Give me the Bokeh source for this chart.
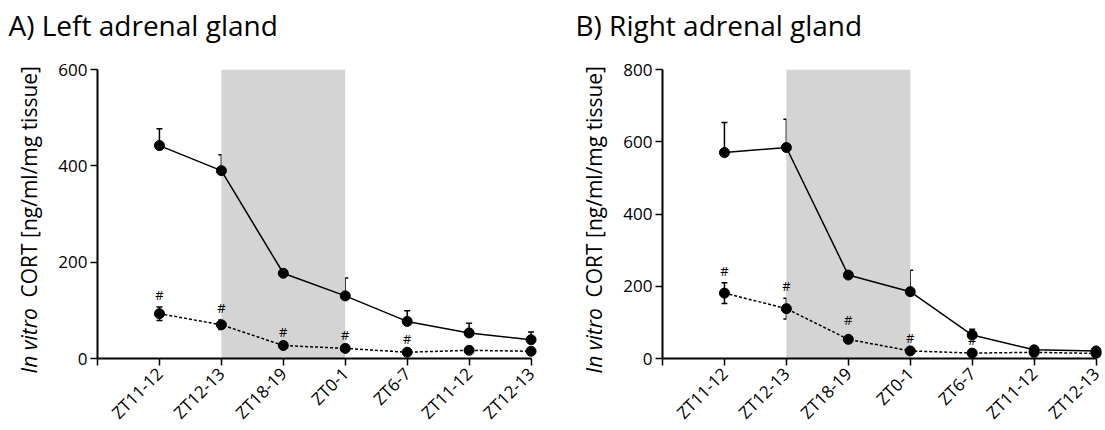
import math
from bokeh.plotting import figure
from bokeh.layouts import row
from bokeh.models import Range1d, FixedTicker, Whisker, TeeHead, ColumnDataSource
from bokeh.core.properties import value
from bokeh.embed import file_html
from bokeh.resources import INLINE

categories = ["ZT11-12", "ZT12-13", "ZT18-19", "ZT0-1", "ZT6-7", "ZT11-12", "ZT12-13"]
x_pos = [0, 1, 2, 3, 4, 5, 6]
dark_start = 1
dark_end = 3

left_solid = [442, 390, 177, 130, 77, 53, 39]
left_solid_err = [35, 33, 32, 37, 22, 20, 16]
left_dashed = [93, 70, 27, 21, 13, 17, 15]
left_dashed_err = [14, 10, 4, 3, 3, 3, 3]
left_hash = [0, 1, 2, 3, 4]
left_yticks = [0, 200, 400, 600]

right_solid = [570, 584, 231, 185, 65, 24, 21]
right_solid_err = [83, 78, 55, 59, 16, 4, 3]
right_dashed = [181, 138, 53, 21, 15, 17, 14]
right_dashed_err = [29, 29, 19, 3, 3, 3, 3]
right_hash = [0, 1, 2, 3, 4]
right_yticks = [0, 200, 400, 600, 800]

ylabel_italic = "In vitro"
ylabel_rest = "CORT [ng/ml/mg tissue]"

FONT = "Open Sans"
H = 430
FW, FH = 441, 289
TOP = 69
BOTTOM = H - TOP - FH
X0, X1 = -1, 6.12


def panel(title, solid, solid_err, dashed, dashed_err, hash_idx, yticks,
          border_left, border_right, title_px, label_px):
    ymax = yticks[-1]
    p = figure(frame_width=FW, frame_height=FH, min_border_left=border_left,
               min_border_right=border_right, min_border_top=TOP, min_border_bottom=BOTTOM,
               x_range=Range1d(X0, X1), y_range=Range1d(0, ymax),
               output_backend="svg", toolbar_location=None, tools="")
    p.title.visible = False
    p.outline_line_color = None
    p.xgrid.visible = False
    p.ygrid.visible = False

    # page pixel -> data helpers (for placing the texts that sit outside the frame)
    def dx(px):
        return X0 + (px - border_left) * (X1 - X0) / FW

    def dy(py):
        return (TOP + FH - py) * ymax / FH

    # dark phase shading
    p.quad(left=[dark_start], right=[dark_end], bottom=[0], top=[ymax],
           fill_color="#d4d4d4", line_color=None)

    # error bars
    s_src = ColumnDataSource(dict(x=x_pos, lo=solid, hi=[v + e for v, e in zip(solid, solid_err)]))
    d_src = ColumnDataSource(dict(x=x_pos, lo=[v - e for v, e in zip(dashed, dashed_err)],
                                  hi=[v + e for v, e in zip(dashed, dashed_err)]))
    p.add_layout(Whisker(source=s_src, base="x", lower="lo", upper="hi", line_color="black",
                         line_width=1.5, lower_head=None,
                         upper_head=TeeHead(size=6, line_width=1.5, line_color="black")))
    p.add_layout(Whisker(source=d_src, base="x", lower="lo", upper="hi", line_color="black",
                         line_width=1.5,
                         lower_head=TeeHead(size=6, line_width=1.5, line_color="black"),
                         upper_head=TeeHead(size=6, line_width=1.5, line_color="black")))

    p.line(x_pos, solid, line_color="black", line_width=1.5)
    p.line(x_pos, dashed, line_color="black", line_width=1.5, line_dash="3 2")
    p.scatter(x_pos, solid, size=10, fill_color="black", line_color="black")
    p.scatter(x_pos, dashed, size=10, fill_color="black", line_color="black")

    hx = [x_pos[i] for i in hash_idx]
    hy = [dashed[i] + dashed_err[i] for i in hash_idx]
    p.text(x=hx, y=hy, text=["#"] * len(hx), text_font=value(FONT), text_font_size="13px",
           text_align="center", text_baseline="bottom", y_offset=-3, text_color="black")

    # panel heading
    r = p.text(x=[dx(title_px)], y=[dy(24)], text=[title], text_font=value(FONT),
               text_font_size="28px", text_color="black", text_align="left",
               text_baseline="alphabetic")
    r.level = "overlay"
    # y-axis title: italic part + regular part
    r = p.text(x=[dx(label_px)], y=[dy(373)], text=[ylabel_italic], angle=math.pi / 2,
               text_font=value(FONT), text_font_size="21px", text_font_style="italic",
               text_color="black", text_align="left", text_baseline="middle")
    r.level = "overlay"
    r = p.text(x=[dx(label_px)], y=[dy(297)], text=[ylabel_rest], angle=math.pi / 2,
               text_font=value(FONT), text_font_size="21px",
               text_color="black", text_align="left", text_baseline="middle")
    r.level = "overlay"

    for ax in (p.xaxis[0], p.yaxis[0]):
        ax.axis_line_width = 2
        ax.axis_line_color = "black"
        ax.major_tick_line_width = 1.5
        ax.major_tick_line_color = "black"
        ax.major_tick_out = 7
        ax.major_tick_in = 0
        ax.minor_tick_line_color = None
        ax.major_label_text_font = FONT
        ax.major_label_text_color = "black"
        ax.major_label_text_font_size = "17px"
    p.xaxis.bounds = (-1, 6)
    p.xaxis.ticker = FixedTicker(ticks=[-1] + x_pos)
    overrides = {-1: ""}
    for i, c in zip(x_pos, categories):
        overrides[i] = c
    p.xaxis.major_label_overrides = overrides
    p.xaxis.major_label_orientation = math.pi / 4
    p.yaxis.ticker = FixedTicker(ticks=yticks)
    p.yaxis.major_label_standoff = 3
    return p


pa = panel("A) Left adrenal gland", left_solid, left_solid_err, left_dashed, left_dashed_err,
           left_hash, left_yticks, 97, 12, 8, 28)
pb = panel("B) Right adrenal gland", right_solid, right_solid_err, right_dashed, right_dashed_err,
           right_hash, right_yticks, 112, 2, 575 - 550, 593 - 550)

layout = row(pa, pb, spacing=0)
open("out.html", "w").write(file_html(layout, INLINE))
